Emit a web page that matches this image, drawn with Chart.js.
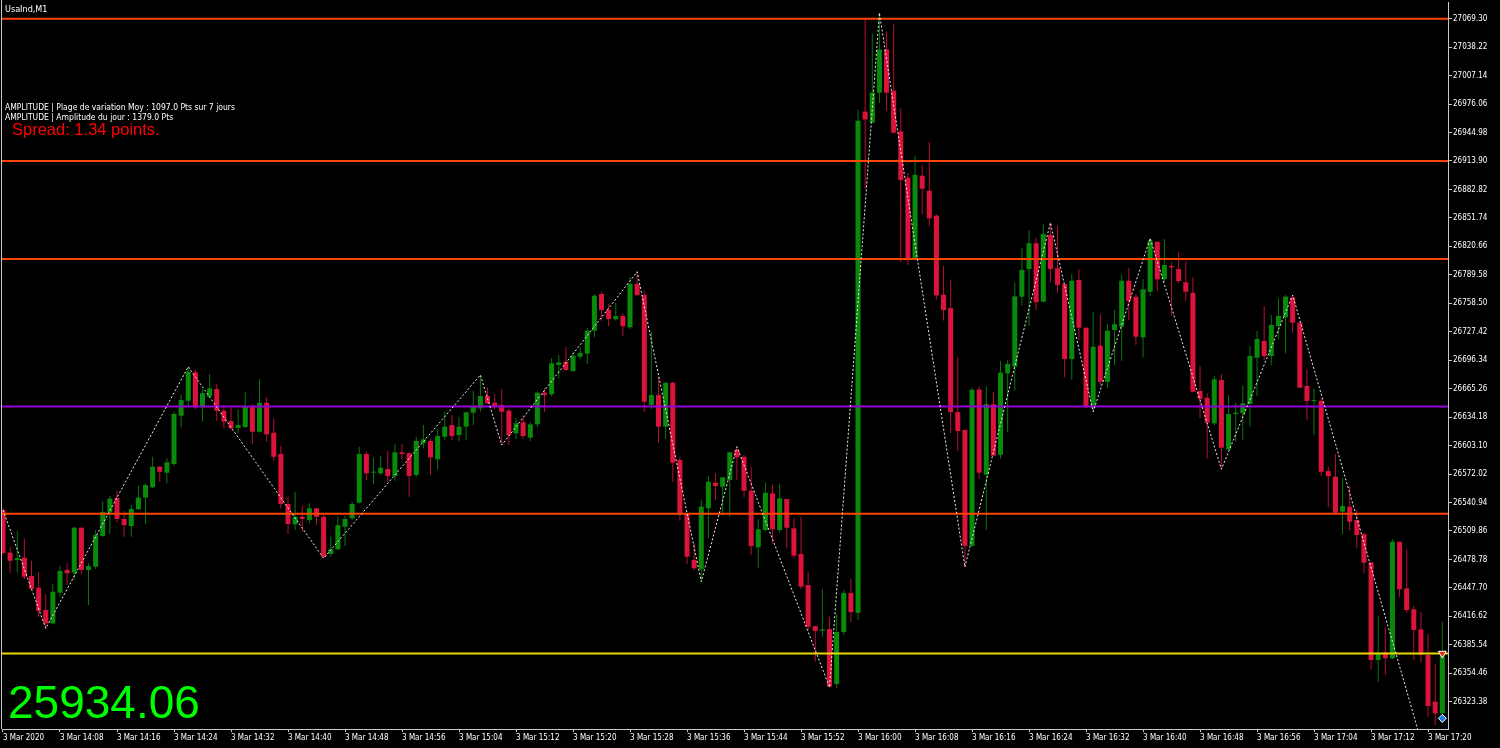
<!DOCTYPE html>
<html>
<head>
<meta charset="utf-8">
<title>UsaInd,M1</title>
<script src="https://cdn.jsdelivr.net/npm/chart.js@4.4.1/dist/chart.umd.min.js"></script>
<style>
  html, body { margin: 0; padding: 0; background: #000; overflow: hidden; }
  #priceChart { display: block; }
</style>
</head>
<body>
<canvas id="priceChart" width="1500" height="748"></canvas>
<script>
// ========================================
// UsaInd M1 — 3 Mar 2020, 14:00 to 17:22
// ========================================

// ----------------------------------------
// Candles (one per minute, bar 0 = 14:00)
// ----------------------------------------
const opens = [
  26532.7, 26486.2, 26478.1, 26480.7, 26460.7, 26447.9, 26423.5, 26409.0, 26442.5, 26467.2,
  26464.3, 26513.4, 26467.2, 26470.9, 26504.3, 26530.2, 26545.8, 26522.9, 26515.2, 26533.5,
  26546.2, 26557.5, 26580.0, 26573.5, 26583.0, 26635.7, 26652.1, 26683.1, 26644.9, 26656.5,
  26664.8, 26641.2, 26629.9, 26622.3, 26623.4, 26646.3, 26618.2, 26649.9, 26617.2, 26593.9,
  26539.3, 26517.1, 26525.4, 26521.8, 26534.6, 26525.4, 26484.7, 26489.8, 26514.5, 26523.7,
  26540.7, 26593.9, 26573.5, 26572.8, 26577.5, 26569.8, 26595.7, 26594.8, 26571.0, 26605.6,
  26608.1, 26588.1, 26612.8, 26625.5, 26614.6, 26623.7, 26639.0, 26643.8, 26657.2, 26649.9,
  26647.4, 26641.2, 26616.5, 26628.5, 26611.7, 26626.3, 26660.8, 26659.1, 26691.2, 26694.7,
  26684.5, 26700.2, 26703.6, 26728.5, 26768.6, 26751.2, 26741.0, 26744.6, 26732.3, 26779.5,
  26767.5, 26647.4, 26658.3, 26623.7, 26671.7, 26587.3, 26529.1, 26478.1, 26468.0, 26534.6,
  26562.5, 26558.2, 26565.5, 26598.3, 26590.9, 26553.8, 26492.0, 26510.9, 26550.9, 26510.9,
  26544.7, 26512.7, 26484.7, 26450.8, 26406.0, 26400.9, 26402.8, 26342.7, 26399.5, 26442.1,
  26420.6, 26967.8, 26955.7, 26988.6, 27035.6, 26990.6, 26946.2, 26895.6, 26806.7, 26897.8,
  26881.4, 26854.2, 26767.8, 26753.2, 26639.6, 26620.2, 26493.6, 26664.2, 26571.4, 26648.3,
  26593.0, 26681.9, 26689.2, 26765.7, 26795.9, 26824.0, 26760.2, 26833.1, 26796.7, 26779.5,
  26697.6, 26783.9, 26731.8, 26645.6, 26712.2, 26672.8, 26729.3, 26732.9, 26783.1, 26765.7,
  26721.3, 26771.1, 26825.7, 26784.7, 26799.2, 26795.9, 26781.4, 26770.0, 26662.7, 26655.4,
  26627.4, 26674.7, 26599.0, 26637.6, 26638.5, 26648.5, 26699.1, 26717.3, 26700.9, 26733.7,
  26743.2, 26765.0, 26737.3, 26668.2, 26651.8, 26652.1, 26575.3, 26569.1, 26530.9, 26536.3,
  26521.8, 26506.5, 26475.6, 26368.9, 26377.3, 26370.8, 26498.1, 26447.2, 26424.3, 26402.4,
  26374.4, 26323.4, 26310.7
];
const highs = [
  26535.0, 26492.7, 26509.8, 26501.1, 26477.3, 26465.3, 26441.0, 26451.9, 26471.5, 26474.5,
  26514.5, 26514.0, 26474.5, 26510.9, 26542.6, 26548.0, 26553.8, 26531.6, 26538.2, 26558.9,
  26561.8, 26590.9, 26580.7, 26589.2, 26640.1, 26658.3, 26689.2, 26686.4, 26664.6, 26681.2,
  26670.3, 26647.4, 26644.9, 26642.7, 26661.3, 26648.5, 26675.8, 26655.8, 26632.9, 26602.6,
  26547.3, 26552.7, 26537.4, 26540.0, 26535.0, 26527.2, 26503.7, 26525.4, 26526.5, 26541.8,
  26601.9, 26596.4, 26589.8, 26591.7, 26597.2, 26604.8, 26604.8, 26595.7, 26612.8, 26625.5,
  26610.3, 26620.8, 26640.1, 26636.5, 26634.6, 26640.1, 26662.7, 26680.2, 26666.7, 26659.1,
  26664.9, 26643.0, 26632.9, 26636.5, 26628.5, 26661.9, 26665.6, 26698.4, 26702.0, 26710.4,
  26705.6, 26710.4, 26731.8, 26768.3, 26771.1, 26757.7, 26759.1, 26747.6, 26786.9, 26792.9,
  26772.2, 26727.5, 26678.3, 26671.7, 26672.8, 26590.9, 26529.1, 26496.4, 26543.7, 26569.8,
  26572.8, 26568.4, 26596.4, 26601.9, 26592.8, 26580.0, 26522.6, 26562.5, 26560.0, 26561.8,
  26544.7, 26523.7, 26525.4, 26465.3, 26406.0, 26446.1, 26416.2, 26419.1, 26445.4, 26457.4,
  26970.0, 27070.0, 27052.9, 27075.7, 27055.4, 27062.8, 26971.3, 26900.8, 26919.2, 26909.7,
  26934.5, 26855.5, 26799.4, 26784.4, 26700.0, 26620.2, 26666.4, 26667.6, 26667.6, 26662.0,
  26695.7, 26696.5, 26780.8, 26818.9, 26838.3, 26829.7, 26845.1, 26846.5, 26842.9, 26779.5,
  26790.5, 26795.6, 26732.3, 26748.6, 26746.5, 26735.9, 26751.2, 26790.1, 26796.7, 26768.6,
  26784.7, 26829.5, 26825.7, 26828.7, 26803.2, 26814.8, 26803.9, 26786.9, 26690.3, 26660.2,
  26679.1, 26681.2, 26658.3, 26649.9, 26669.2, 26711.8, 26728.2, 26755.5, 26745.7, 26763.9,
  26767.5, 26767.5, 26738.1, 26686.4, 26665.6, 26654.7, 26580.0, 26593.9, 26567.3, 26558.9,
  26532.7, 26507.3, 26476.3, 26417.0, 26405.3, 26500.8, 26498.1, 26489.8, 26427.9, 26421.7,
  26397.3, 26364.5, 26410.7
];
const lows = [
  26483.6, 26464.3, 26464.3, 26457.4, 26445.4, 26416.2, 26403.5, 26408.0, 26438.1, 26450.8,
  26456.3, 26462.8, 26429.0, 26468.3, 26503.5, 26506.2, 26518.9, 26503.5, 26503.5, 26532.7,
  26517.4, 26556.4, 26563.6, 26561.8, 26581.1, 26623.0, 26645.6, 26642.7, 26629.2, 26654.8,
  26630.2, 26621.9, 26620.9, 26616.5, 26622.3, 26604.8, 26617.5, 26607.3, 26586.6, 26534.6,
  26506.5, 26510.9, 26509.0, 26518.3, 26516.3, 26480.0, 26481.8, 26489.1, 26493.4, 26521.8,
  26540.0, 26565.5, 26561.1, 26570.6, 26563.6, 26564.7, 26587.3, 26547.3, 26569.1, 26600.1,
  26571.0, 26577.2, 26609.2, 26609.2, 26608.1, 26609.2, 26625.5, 26640.1, 26648.5, 26643.0,
  26603.7, 26603.7, 26610.3, 26610.3, 26608.1, 26623.0, 26640.1, 26657.2, 26676.6, 26684.8,
  26683.8, 26697.3, 26692.2, 26721.3, 26739.1, 26733.4, 26739.5, 26722.7, 26730.4, 26766.4,
  26640.1, 26642.7, 26606.2, 26610.0, 26563.6, 26521.0, 26473.8, 26467.2, 26454.4, 26501.8,
  26543.7, 26527.3, 26525.4, 26565.5, 26546.6, 26483.6, 26469.1, 26509.0, 26497.0, 26508.0,
  26490.9, 26480.0, 26446.1, 26400.9, 26367.1, 26394.4, 26339.1, 26338.4, 26396.2, 26410.4,
  26412.9, 26883.6, 26955.0, 26977.3, 26968.7, 26944.0, 26803.7, 26800.3, 26805.9, 26855.5,
  26842.5, 26762.6, 26739.8, 26616.7, 26597.3, 26470.4, 26492.7, 26567.0, 26510.9, 26591.5,
  26588.6, 26618.0, 26663.3, 26756.2, 26733.7, 26751.1, 26759.5, 26781.4, 26770.0, 26677.6,
  26674.7, 26718.4, 26644.0, 26640.1, 26668.2, 26665.6, 26691.1, 26695.8, 26740.2, 26712.9,
  26699.5, 26766.4, 26772.2, 26782.1, 26744.9, 26780.3, 26761.3, 26661.1, 26632.9, 26589.2,
  26625.5, 26577.2, 26598.3, 26607.3, 26609.2, 26623.7, 26657.2, 26696.5, 26691.1, 26719.1,
  26703.9, 26726.4, 26666.3, 26631.0, 26614.6, 26569.8, 26535.7, 26529.1, 26506.5, 26510.1,
  26490.9, 26463.6, 26358.8, 26345.2, 26352.6, 26369.7, 26438.1, 26420.6, 26368.9, 26366.0,
  26307.0, 26298.0, 26299.8
];
const closes = [
  26485.8, 26477.3, 26480.3, 26459.9, 26446.5, 26422.4, 26409.0, 26443.5, 26466.1, 26463.6,
  26513.4, 26467.2, 26471.5, 26505.4, 26530.5, 26545.1, 26522.9, 26516.3, 26533.8, 26546.2,
  26560.0, 26580.0, 26574.5, 26584.8, 26637.6, 26652.9, 26683.8, 26644.9, 26660.2, 26665.6,
  26641.2, 26629.2, 26621.9, 26625.5, 26646.3, 26618.2, 26649.9, 26615.4, 26590.9, 26539.3,
  26517.4, 26525.4, 26522.9, 26534.6, 26525.4, 26481.8, 26489.8, 26516.3, 26522.9, 26539.3,
  26593.9, 26572.8, 26574.5, 26578.9, 26569.8, 26595.7, 26593.9, 26569.8, 26608.1, 26609.9,
  26590.3, 26613.5, 26623.7, 26613.5, 26623.7, 26639.4, 26646.3, 26657.2, 26649.3, 26645.6,
  26640.1, 26614.6, 26627.4, 26613.5, 26626.3, 26660.8, 26658.3, 26692.9, 26694.0, 26685.6,
  26700.9, 26704.3, 26728.5, 26766.8, 26751.2, 26741.3, 26744.6, 26733.4, 26779.5, 26767.5,
  26651.0, 26658.3, 26623.7, 26671.7, 26584.4, 26527.3, 26481.8, 26469.1, 26536.3, 26563.6,
  26558.9, 26568.4, 26595.7, 26590.3, 26553.8, 26493.4, 26511.7, 26551.6, 26511.7, 26545.5,
  26513.4, 26482.9, 26449.0, 26405.3, 26400.6, 26402.4, 26339.8, 26399.5, 26442.1, 26421.3,
  26957.9, 26959.2, 26988.6, 27035.6, 26988.6, 26944.9, 26893.1, 26805.9, 26898.7, 26883.6,
  26851.2, 26767.0, 26751.1, 26639.6, 26618.9, 26493.6, 26664.2, 26573.6, 26648.3, 26592.2,
  26682.8, 26692.2, 26766.1, 26795.0, 26824.0, 26759.7, 26834.1, 26795.9, 26778.4, 26697.6,
  26783.1, 26731.8, 26644.9, 26711.1, 26672.8, 26728.5, 26735.5, 26783.1, 26761.0, 26722.0,
  26773.8, 26826.8, 26784.7, 26800.3, 26797.8, 26782.8, 26771.1, 26661.9, 26654.0, 26628.1,
  26675.5, 26600.8, 26637.6, 26639.0, 26649.3, 26700.9, 26719.5, 26700.9, 26734.8, 26744.6,
  26765.7, 26737.3, 26666.3, 26651.8, 26652.9, 26574.5, 26569.8, 26529.8, 26537.1, 26520.0,
  26505.4, 26475.2, 26368.9, 26376.9, 26370.8, 26498.1, 26446.1, 26423.5, 26401.7, 26374.4,
  26318.7, 26310.7, 26374.4
];

// ----------------------------------------
// ZigZag pivots (bar index, price)
// ----------------------------------------
const zigzagBars   = [0, 6, 26, 45, 67, 70, 89, 98, 103, 116, 123, 135, 147, 153, 161, 171, 181, 202];
const zigzagPrices = [26532.7, 26403.5, 26689.2, 26480.0, 26680.2, 26603.7, 26792.9, 26454.4, 26601.9,
                      26339.1, 27075.7, 26470.4, 26846.5, 26640.1, 26829.5, 26577.2, 26767.5, 26200.0];

// ----------------------------------------
// Horizontal levels
// ----------------------------------------
const levelPrices = [27069.30, 26913.90, 26806.90, 26528.70, 26645.80, 26376.00];
const levelColors = ['#ff4500', '#ff4500', '#ff4500', '#ff4500', '#9400d3', '#e8d800'];

// right edge markers (last bar)
const markerBars   = [202, 202];
const markerPrices = [26376.0, 26305.2];

// ----------------------------------------
// Axis ticks
// ----------------------------------------
const priceTicks = [
  27069.30, 27038.22, 27007.14, 26976.06, 26944.98, 26913.90, 26882.82, 26851.74, 26820.66,
  26789.58, 26758.50, 26727.42, 26696.34, 26665.26, 26634.18, 26603.10, 26572.02, 26540.94,
  26509.86, 26478.78, 26447.70, 26416.62, 26385.54, 26354.46, 26323.38
];
const timeTickBars = [0, 8, 16, 24, 32, 40, 48, 56, 64, 72, 80, 88, 96, 104, 112, 120, 128,
                      136, 144, 152, 160, 168, 176, 184, 192, 200];
const timeTickLabels = [
  '3 Mar 2020', '3 Mar 14:08', '3 Mar 14:16', '3 Mar 14:24', '3 Mar 14:32', '3 Mar 14:40',
  '3 Mar 14:48', '3 Mar 14:56', '3 Mar 15:04', '3 Mar 15:12', '3 Mar 15:20', '3 Mar 15:28',
  '3 Mar 15:36', '3 Mar 15:44', '3 Mar 15:52', '3 Mar 16:00', '3 Mar 16:08', '3 Mar 16:16',
  '3 Mar 16:24', '3 Mar 16:32', '3 Mar 16:40', '3 Mar 16:48', '3 Mar 16:56', '3 Mar 17:04',
  '3 Mar 17:12', '3 Mar 17:20'
];

// on-chart texts
const notes = [
  { text: 'UsaInd,M1', x: 5, y: 11.5, font: '9px "DejaVu Sans Condensed", "DejaVu Sans", sans-serif', color: '#ffffff' },
  { text: 'AMPLITUDE | Plage de variation Moy : 1097.0 Pts sur 7 jours', x: 5, y: 109.5, font: '8.5px "DejaVu Sans Condensed", "DejaVu Sans", sans-serif', color: '#ffffff' },
  { text: 'AMPLITUDE | Amplitude du jour : 1379.0 Pts', x: 5, y: 120, font: '8.5px "DejaVu Sans Condensed", "DejaVu Sans", sans-serif', color: '#ffffff' },
  { text: 'Spread: 1.34 points.', x: 12, y: 134.5, font: '16.5px "Liberation Sans", Arial, sans-serif', color: '#ff0000' },
  { text: '25934.06', x: 8, y: 718, font: '46px "Liberation Sans", Arial, sans-serif', color: '#00ff00' }
];

// ----------------------------------------
// Look
// ----------------------------------------
const X_MIN = -0.14, X_MAX = 202.8;
const Y_MIN = 26293.6, Y_MAX = 27087.5;
const axisGrey = '#c8c8c8';

Chart.defaults.color = '#ffffff';
Chart.defaults.font.family = '"DejaVu Sans Condensed", "DejaVu Sans", sans-serif';
Chart.defaults.font.size = 8;

const isUp = closes.map((c, i) => c >= opens[i]);
const bodyColors = isUp.map(up => (up ? '#0a8a0a' : '#dc143c'));
const wickColors = isUp.map(up => (up ? '#0a780a' : '#b8102e'));

const wickData = highs.map((h, i) => ({ x: i, y: [lows[i], h] }));
const bodyData = opens.map((o, i) => ({ x: i, y: [o, closes[i]] }));

const levelSets = levelPrices.map((p, k) => ({
  type: 'line',
  data: [{ x: X_MIN, y: p }, { x: X_MAX, y: p }],
  borderColor: levelColors[k],
  borderWidth: 2,
  pointRadius: 0,
  order: 2
}));

// background, left frame line and texts
const chartDecor = {
  id: 'chartDecor',
  beforeDraw(chart) {
    const { ctx, width, height } = chart;
    ctx.save();
    ctx.fillStyle = '#000000';
    ctx.fillRect(0, 0, width, height);
    ctx.restore();
  },
  afterDraw(chart) {
    const { ctx, chartArea } = chart;
    ctx.save();
    ctx.fillStyle = axisGrey;
    ctx.fillRect(1, 0, 1, chartArea.bottom);
    notes.forEach(n => {
      ctx.font = n.font;
      ctx.fillStyle = n.color;
      ctx.textBaseline = 'alphabetic';
      ctx.fillText(n.text, n.x, n.y);
    });
    ctx.restore();
  }
};

new Chart(document.getElementById('priceChart'), {
  type: 'bar',
  data: {
    datasets: [
      {
        label: 'wicks',
        data: wickData,
        backgroundColor: wickColors,
        barThickness: 1,
        minBarLength: 1,
        grouped: false,
        inflateAmount: 0,
        borderWidth: 0,
        order: 4
      },
      {
        label: 'bodies',
        data: bodyData,
        backgroundColor: bodyColors,
        barThickness: 5,
        minBarLength: 1,
        grouped: false,
        inflateAmount: 0,
        borderWidth: 0,
        order: 3
      },
      ...levelSets,
      {
        type: 'line',
        label: 'zigzag',
        data: zigzagBars.map((b, k) => ({ x: b, y: zigzagPrices[k] })),
        borderColor: '#ececec',
        borderWidth: 1,
        borderDash: [2, 2],
        pointRadius: 0,
        tension: 0,
        order: 1
      },
      {
        type: 'line',
        label: 'markers',
        data: markerBars.map((b, k) => ({ x: b, y: markerPrices[k] })),
        showLine: false,
        pointStyle: ['triangle', 'rectRot'],
        rotation: [180, 0],
        pointRadius: [4.5, 4],
        pointBackgroundColor: ['#e8281e', '#1e78e6'],
        pointBorderColor: '#ffffff',
        pointBorderWidth: 1,
        order: 0
      }
    ]
  },
  options: {
    responsive: false,
    animation: false,
    devicePixelRatio: 1,
    events: [],
    layout: { autoPadding: false, padding: { left: 2, top: 2, right: 0, bottom: 0 } },
    plugins: {
      legend: { display: false },
      tooltip: { enabled: false }
    },
    scales: {
      x: {
        type: 'linear',
        min: X_MIN,
        max: X_MAX,
        offset: false,
        grid: { display: true, drawOnChartArea: false, drawTicks: true, tickLength: 3, color: axisGrey, offset: false },
        border: { display: true, color: axisGrey, width: 1 },
        ticks: {
          autoSkip: false,
          maxRotation: 0,
          minRotation: 0,
          align: 'start',
          padding: 1,
          color: '#ffffff',
          font: { size: 8 },
          callback: (value) => timeTickLabels[timeTickBars.indexOf(value)] || ''
        },
        afterBuildTicks: (scale) => { scale.ticks = timeTickBars.map(v => ({ value: v })); },
        afterFit: (scale) => {
          scale.height = 19;
          scale.paddingLeft = 0;
          scale.paddingRight = 0;
        }
      },
      y: {
        position: 'right',
        min: Y_MIN,
        max: Y_MAX,
        beginAtZero: false,
        grid: { display: true, drawOnChartArea: false, drawTicks: true, tickLength: 4, color: axisGrey },
        border: { display: true, color: axisGrey, width: 1 },
        ticks: {
          padding: 1,
          color: '#ffffff',
          font: { size: 8 },
          callback: (value) => Number(value).toFixed(2)
        },
        afterBuildTicks: (scale) => { scale.ticks = priceTicks.map(v => ({ value: v })); },
        afterFit: (scale) => {
          scale.width = 52;
          scale.paddingTop = 0;
          scale.paddingBottom = 0;
        }
      }
    }
  },
  plugins: [chartDecor]
});
</script>
</body>
</html>
